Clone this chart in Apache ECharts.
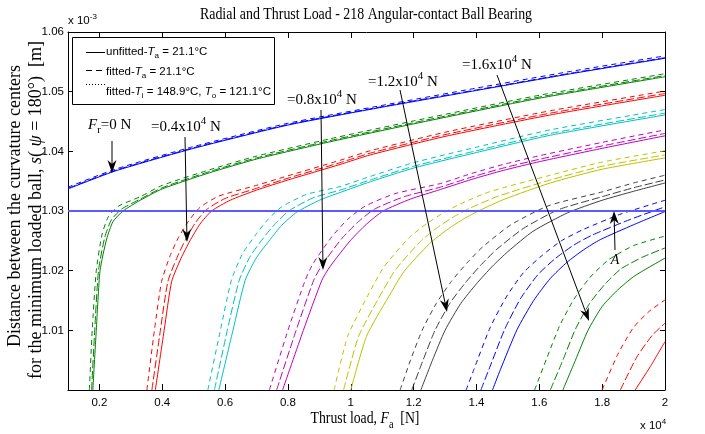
<!DOCTYPE html>
<html><head><meta charset="utf-8">
<script src="https://cdn.jsdelivr.net/npm/echarts@6/dist/echarts.min.js"></script>
<style>html,body{margin:0;padding:0;background:#fff}#c{width:705px;height:434px}</style>
</head><body><div id="c"></div>
<script>
// ---- data (x in 10^4 N, y in 10^-3 m) ----
const X_TICKS = [0.2, 0.4, 0.6, 0.8, 1, 1.2, 1.4, 1.6, 1.8, 2];
const Y_TICKS = [1.01, 1.02, 1.03, 1.04, 1.05, 1.06];
const RADIAL_LOADS = [0, 0.2, 0.4, 0.6, 0.8, 1.0, 1.2, 1.4, 1.6, 1.8];
const REF_LEVEL = [[0.1, 1.03], [2.0, 1.03]];

// unfitted, T_a = 21.1 C (solid)
const UNFIT_0 = [[0.1,1.0337],[0.25,1.0367],[0.5,1.0405],[0.8,1.0444],[1.1,1.0474],[1.4,1.0502],[1.7,1.0530],[2.0,1.0556]];
const UNFIT_1 = [[0.179,1.0],[0.19,1.01],[0.202,1.02],[0.223,1.0253],[0.243,1.0282],[0.275,1.0300],[0.33,1.0318],[0.40,1.0337],[0.55,1.0364],[0.70,1.0387],[0.934,1.0416],[1.2,1.0446],[1.6,1.0489],[2.0,1.0525]];
const UNFIT_2 = [[0.378,1.0],[0.406,1.01],[0.43,1.0182],[0.46,1.0221],[0.488,1.0250],[0.52,1.0278],[0.557,1.0300],[0.616,1.0318],[0.70,1.0335],[0.80,1.0352],[0.966,1.0378],[1.062,1.0394],[1.3,1.0425],[1.635,1.0461],[2.0,1.0494]];
const UNFIT_3 = [[0.58,1.0],[0.625,1.01],[0.664,1.0184],[0.70,1.0222],[0.743,1.0252],[0.78,1.0276],[0.828,1.0298],[0.90,1.0318],[0.966,1.0331],[1.062,1.0349],[1.2,1.0372],[1.4,1.0398],[1.635,1.0427],[2.0,1.0461]];
const UNFIT_4 = [[0.783,1.0],[0.849,1.01],[0.908,1.0184],[0.934,1.0207],[0.998,1.0250],[1.05,1.0278],[1.103,1.0300],[1.19,1.0320],[1.285,1.0336],[1.385,1.0353],[1.485,1.0368],[1.603,1.0383],[1.8,1.0405],[2.0,1.0426]];
const UNFIT_5 = [[1.0,1.0],[1.05,1.0090],[1.12,1.0156],[1.17,1.0199],[1.25,1.0245],[1.31,1.0270],[1.36,1.0287],[1.41,1.0301],[1.49,1.0320],[1.635,1.0347],[1.8,1.0370],[2.0,1.0389]];
const UNFIT_6 = [[1.223,1.0],[1.26,1.0050],[1.30,1.0100],[1.35,1.0145],[1.40,1.0178],[1.45,1.0207],[1.50,1.0232],[1.58,1.0266],[1.69,1.0297],[1.80,1.0318],[1.90,1.0333],[2.0,1.0347]];
const UNFIT_7 = [[1.451,1.0],[1.476,1.0034],[1.529,1.0101],[1.582,1.0150],[1.635,1.0187],[1.688,1.0214],[1.741,1.0235],[1.794,1.0252],[1.90,1.0277],[2.0,1.0299]];
const UNFIT_8 = [[1.675,1.0],[1.715,1.0050],[1.755,1.0100],[1.80,1.0140],[1.85,1.0168],[1.90,1.0190],[1.95,1.0206],[2.0,1.0221]];
const UNFIT_9 = [[1.905,1.0],[1.953,1.0039],[2.0,1.0081]];

// fitted, T_a = 21.1 C (dashed)
const FIT_A_0 = [[0.1,1.0340],[0.25,1.0370],[0.5,1.0408],[0.8,1.0447],[1.1,1.0477],[1.4,1.0506],[1.7,1.0534],[2.0,1.0560]];
const FIT_A_1 = [[0.168,1.0],[0.177,1.01],[0.19,1.02],[0.208,1.0260],[0.228,1.0290],[0.26,1.0308],[0.33,1.0324],[0.40,1.0343],[0.55,1.0369],[0.70,1.0392],[0.934,1.0421],[1.2,1.0451],[1.6,1.0494],[2.0,1.0530]];
const FIT_A_2 = [[0.351,1.0],[0.375,1.01],[0.398,1.0182],[0.425,1.0225],[0.452,1.0256],[0.485,1.0284],[0.52,1.0306],[0.58,1.0325],[0.70,1.0343],[0.80,1.0359],[0.966,1.0385],[1.062,1.0401],[1.3,1.0432],[1.635,1.0468],[2.0,1.0501]];
const FIT_A_3 = [[0.545,1.0],[0.585,1.01],[0.62,1.0184],[0.655,1.0228],[0.697,1.0260],[0.735,1.0285],[0.78,1.0307],[0.86,1.0328],[0.966,1.0341],[1.062,1.0358],[1.2,1.0381],[1.4,1.0407],[1.635,1.0436],[2.0,1.0470]];
const FIT_A_4 = [[0.741,1.0],[0.80,1.01],[0.855,1.0184],[0.88,1.0212],[0.94,1.0257],[0.99,1.0286],[1.045,1.0308],[1.14,1.0329],[1.285,1.0346],[1.385,1.0363],[1.485,1.0378],[1.603,1.0393],[1.8,1.0415],[2.0,1.0436]];
const FIT_A_5 = [[0.947,1.0],[0.99,1.0090],[1.057,1.0161],[1.105,1.0206],[1.185,1.0255],[1.245,1.0280],[1.295,1.0297],[1.345,1.0311],[1.44,1.0332],[1.635,1.0360],[1.8,1.0382],[2.0,1.0401]];
const FIT_A_6 = [[1.157,1.0],[1.19,1.0050],[1.227,1.0100],[1.272,1.0145],[1.32,1.0182],[1.37,1.0213],[1.42,1.0240],[1.51,1.0277],[1.63,1.0309],[1.80,1.0332],[1.90,1.0347],[2.0,1.0360]];
const FIT_A_7 = [[1.367,1.0],[1.393,1.0036],[1.443,1.0104],[1.495,1.0156],[1.55,1.0197],[1.61,1.0226],[1.67,1.0250],[1.74,1.0269],[1.86,1.0295],[2.0,1.0318]];
const FIT_A_8 = [[1.585,1.0],[1.625,1.0055],[1.665,1.0108],[1.71,1.0152],[1.76,1.0188],[1.82,1.0218],[1.90,1.0242],[2.0,1.0258]];
const FIT_A_9 = [[1.80,1.0],[1.85,1.0060],[1.90,1.0105],[1.95,1.0132],[2.0,1.0151]];

// fitted, T_i = 148.9 C, T_o = 121.1 C (dotted)
const FIT_IO_0 = [[0.1,1.0338],[0.25,1.0368],[0.5,1.0406],[0.8,1.0445],[1.1,1.0475],[1.4,1.0503],[1.7,1.0531],[2.0,1.0557]];
const FIT_IO_1 = [[0.175,1.0],[0.185,1.01],[0.197,1.02],[0.217,1.0256],[0.238,1.0285],[0.27,1.0303],[0.33,1.0320],[0.40,1.0339],[0.55,1.0366],[0.70,1.0389],[0.934,1.0418],[1.2,1.0448],[1.6,1.0491],[2.0,1.0527]];
const FIT_IO_2 = [[0.367,1.0],[0.394,1.01],[0.418,1.0182],[0.447,1.0222],[0.474,1.0252],[0.505,1.0280],[0.54,1.0302],[0.60,1.0321],[0.70,1.0338],[0.80,1.0355],[0.966,1.0381],[1.062,1.0397],[1.3,1.0428],[1.635,1.0464],[2.0,1.0497]];
const FIT_IO_3 = [[0.566,1.0],[0.607,1.01],[0.645,1.0184],[0.68,1.0224],[0.722,1.0255],[0.76,1.0279],[0.805,1.0301],[0.88,1.0322],[0.966,1.0335],[1.062,1.0352],[1.2,1.0375],[1.4,1.0401],[1.635,1.0430],[2.0,1.0464]];
const FIT_IO_4 = [[0.764,1.0],[0.826,1.01],[0.882,1.0184],[0.908,1.0209],[0.97,1.0253],[1.022,1.0281],[1.075,1.0303],[1.17,1.0324],[1.285,1.0340],[1.385,1.0357],[1.485,1.0372],[1.603,1.0387],[1.8,1.0409],[2.0,1.0430]];
const FIT_IO_5 = [[0.977,1.0],[1.025,1.0090],[1.093,1.0158],[1.143,1.0202],[1.222,1.0249],[1.28,1.0274],[1.33,1.0291],[1.38,1.0305],[1.47,1.0325],[1.635,1.0352],[1.8,1.0375],[2.0,1.0394]];
const FIT_IO_6 = [[1.194,1.0],[1.23,1.0050],[1.268,1.0100],[1.315,1.0145],[1.365,1.0180],[1.415,1.0210],[1.465,1.0236],[1.55,1.0271],[1.66,1.0302],[1.80,1.0324],[1.90,1.0339],[2.0,1.0352]];
const FIT_IO_7 = [[1.414,1.0],[1.44,1.0035],[1.49,1.0102],[1.54,1.0153],[1.595,1.0193],[1.65,1.0220],[1.71,1.0243],[1.77,1.0260],[1.89,1.0286],[2.0,1.0307]];
const FIT_IO_8 = [[1.635,1.0],[1.675,1.0050],[1.715,1.0102],[1.76,1.0145],[1.81,1.0178],[1.86,1.0203],[1.93,1.0223],[2.0,1.0238]];
const FIT_IO_9 = [[1.858,1.0],[1.91,1.0055],[1.96,1.0092],[2.0,1.0112]];

const UNFITTED = [UNFIT_0,UNFIT_1,UNFIT_2,UNFIT_3,UNFIT_4,UNFIT_5,UNFIT_6,UNFIT_7,UNFIT_8,UNFIT_9];
const FITTED_A = [FIT_A_0,FIT_A_1,FIT_A_2,FIT_A_3,FIT_A_4,FIT_A_5,FIT_A_6,FIT_A_7,FIT_A_8,FIT_A_9];
const FITTED_IO = [FIT_IO_0,FIT_IO_1,FIT_IO_2,FIT_IO_3,FIT_IO_4,FIT_IO_5,FIT_IO_6,FIT_IO_7,FIT_IO_8,FIT_IO_9];

// ---- styles ----
const COLORS = ['#0000ff','#008000','#ff0000','#00bfbf','#bf00bf','#bfbf00','#404040','#0000ff','#008000','#ff0000'];
const SERIF = "'Liberation Serif','Times New Roman',serif";
const SANS = "'Liberation Sans',Arial,sans-serif";

const chart = echarts.init(document.getElementById('c'), null, {renderer: 'canvas'});

const series = [];
const lineBase = {type:'line', showSymbol:false, symbol:'none', smooth:0.2, z:2, silent:true};
RADIAL_LOADS.forEach((fr, k) => {
  const c = COLORS[k];
  series.push(Object.assign({}, lineBase, {name:'unfitted Fr=' + fr, data: UNFITTED[k], lineStyle:{color:c, width:1, type:'solid'}}));
  series.push(Object.assign({}, lineBase, {name:'fitted Ti/To Fr=' + fr, data: FITTED_IO[k], lineStyle:{color:c, width:1, type:[8,3]}}));
  series.push(Object.assign({}, lineBase, {name:'fitted Ta Fr=' + fr, data: FITTED_A[k], lineStyle:{color:c, width:1, type:[5,4]}}));
});
series.push({type:'line', name:'reference', data: REF_LEVEL, showSymbol:false, symbol:'none', z:3,
  lineStyle:{color:'#5a5aff', width:2}, silent:true});

function rich(size, fam) {
  const f = fam || SERIF;
  return {
    n: {fontFamily:f, fontSize:size, fill:'#000'},
    i: {fontFamily:f, fontSize:size, fontStyle:'italic', fill:'#000'},
    sub: {fontFamily:f, fontSize:Math.round(size*0.72), fill:'#000', padding:[Math.round(size*0.7),0,0,0]},
    sup: {fontFamily:f, fontSize:Math.round(size*0.72), fill:'#000', padding:[0,0,Math.round(size*0.8),0]}
  };
}
function txt(x, y, text, size, fam, opts) {
  return Object.assign({type:'text', x:x, y:y, z:50, silent:true,
    style:Object.assign({text:text, fontFamily:fam||SERIF, fontSize:size, fill:'#000', align:'left', verticalAlign:'middle', rich:rich(size, fam)}, (opts&&opts.style)||{})},
    (opts&&opts.el)||{});
}
function arrow(x1, y1, x2, y2) {
  const dx = x2-x1, dy = y2-y1, len = Math.hypot(dx,dy), ux = dx/len, uy = dy/len, px = -uy, py = ux;
  const L = 13, W = 4.5, N = 4;
  const bx = x2-ux*L, by = y2-uy*L, nx = x2-ux*(L-N), ny = y2-uy*(L-N);
  return [
    {type:'line', z:50, silent:true, shape:{x1:x1, y1:y1, x2:nx, y2:ny}, style:{stroke:'#000', lineWidth:1}},
    {type:'polygon', z:50, silent:true, shape:{points:[[x2,y2],[bx+px*W,by+py*W],[nx,ny],[bx-px*W,by-py*W]]}, style:{fill:'#000'}}
  ];
}

const ARROWS = [[112,141,112,173],[185,137,187,242],[321,110,323,270],[400,90,447,312],[497,75,589,321],[615,250,614,211]];

const graphics = [];
ARROWS.forEach(a => graphics.push(...arrow(a[0],a[1],a[2],a[3])));

// annotation labels
graphics.push(txt(88, 125, '{i|F}{sub|r}{n|=0 N}', 15));
graphics.push(txt(151, 127, '{n|=0.4x10}{sup|4}{n| N}', 15));
graphics.push(txt(287, 100, '{n|=0.8x10}{sup|4}{n| N}', 15));
graphics.push(txt(368, 82, '{n|=1.2x10}{sup|4}{n| N}', 15));
graphics.push(txt(462, 65, '{n|=1.6x10}{sup|4}{n| N}', 15));
graphics.push(txt(615, 260, '{i|A}', 14, SERIF, {style:{align:'center'}}));

// title, axis titles, exponent labels
graphics.push(txt(366, 15, '{n|Radial and Thrust Load - 218 Angular-contact Ball Bearing}', 16, SERIF, {style:{align:'center'}, el:{scaleX:0.87}}));
graphics.push(txt(365, 419, '{n|Thrust load, }{i|F}{sub|a}{n|  [N]}', 16, SERIF, {style:{align:'center'}, el:{scaleX:0.86}}));
graphics.push(txt(15, 206, '{n|Distance between the curvature centers}', 18, SERIF, {style:{align:'center'}, el:{rotation:Math.PI/2}}));
graphics.push(txt(36, 210, '{n|for the minimum loaded ball, }{i|s}{n|( }{i|ψ}{n| = 180°)  [m]}', 18, SERIF, {style:{align:'center'}, el:{rotation:Math.PI/2}}));
graphics.push(txt(68, 21, '{n|x 10}{sup|-3}', 11.5, SANS));
graphics.push(txt(640, 426, '{n|x 10}{sup|4}', 11.5, SANS));

// legend box
graphics.push({type:'rect', z:40, silent:true, shape:{x:72.5, y:37.5, width:202, height:67}, style:{fill:'#fff', stroke:'#000', lineWidth:1}});
graphics.push({type:'line', z:41, silent:true, shape:{x1:86, y1:52.5, x2:105, y2:52.5}, style:{stroke:'#000', lineWidth:1}});
graphics.push({type:'line', z:41, silent:true, shape:{x1:86, y1:70.5, x2:105, y2:70.5}, style:{stroke:'#000', lineWidth:1, lineDash:[6,4]}});
graphics.push({type:'line', z:41, silent:true, shape:{x1:86, y1:84.5, x2:105, y2:84.5}, style:{stroke:'#000', lineWidth:1, lineDash:[1,2]}});
graphics.push(txt(106, 52, '{n|unfitted-}{i|T}{sub|a}{n| = 21.1°C}', 11.5, SANS));
graphics.push(txt(106, 72, '{n|fitted-}{i|T}{sub|a}{n| = 21.1°C}', 11.5, SANS));
graphics.push(txt(106, 92, '{n|fitted-}{i|T}{sub|i}{n| = 148.9°C, }{i|T}{sub|o}{n| = 121.1°C}', 11.5, SANS));

const axisCommon = {
  type:'value', splitLine:{show:false},
  axisLine:{show:true, onZero:false, lineStyle:{color:'#000', width:1}}
};

chart.setOption({
  animation:false,
  backgroundColor:'#fff',
  grid:{left:68, right:40, top:32, bottom:44, containLabel:false},
  xAxis:[
    Object.assign({}, axisCommon, {min:0.1, max:2, position:'bottom',
      axisTick:{show:true, inside:true, length:6, customValues:X_TICKS, lineStyle:{color:'#000'}},
      axisLabel:{show:true, customValues:X_TICKS, margin:7, color:'#000', fontSize:11.5, fontFamily:SANS, formatter:v => String(v)}}),
    Object.assign({}, axisCommon, {min:0.1, max:2, position:'top',
      axisTick:{show:true, inside:true, length:6, customValues:X_TICKS, lineStyle:{color:'#000'}},
      axisLabel:{show:false}})
  ],
  yAxis:[
    Object.assign({}, axisCommon, {min:1.0, max:1.06, position:'left',
      axisTick:{show:true, inside:true, length:5, customValues:Y_TICKS, lineStyle:{color:'#000'}},
      axisLabel:{show:true, customValues:Y_TICKS, margin:4, color:'#000', fontSize:11.5, fontFamily:SANS, formatter:v => v.toFixed(2)}}),
    Object.assign({}, axisCommon, {min:1.0, max:1.06, position:'right',
      axisTick:{show:true, inside:true, length:5, customValues:Y_TICKS, lineStyle:{color:'#000'}},
      axisLabel:{show:false}})
  ],
  series: series,
  graphic: graphics
});
</script>
</body></html>
